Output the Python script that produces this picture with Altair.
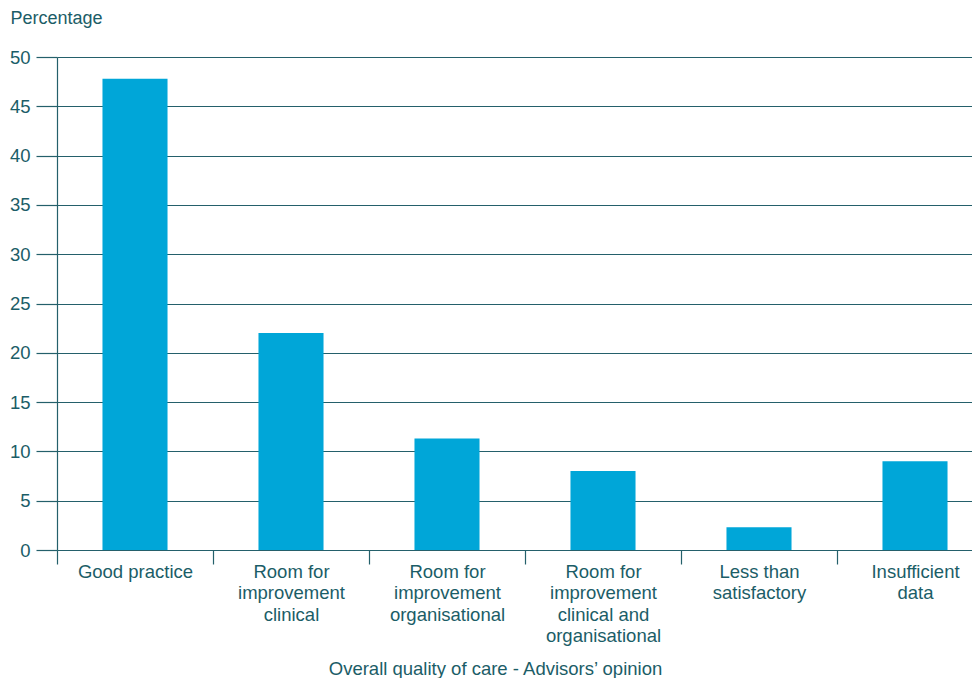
import altair as alt
import pandas as pd

categories = [
    "Good practice",
    "Room for|improvement|clinical",
    "Room for|improvement|organisational",
    "Room for|improvement|clinical and|organisational",
    "Less than|satisfactory",
    "Insufficient|data",
]
values = [47.8, 22.0, 11.3, 8.0, 2.3, 9.0]
y_ticks = [0, 5, 10, 15, 20, 25, 30, 35, 40, 45, 50]

df = pd.DataFrame({"category": categories, "value": values})

TEXT = "#1b5d67"
GRID = "#24606b"
BAR = "#00a6d8"
FONT = "Liberation Sans"

chart = alt.Chart(df).mark_bar(
    color=BAR, width=alt.RelativeBandSize(0.417)
).encode(
    x=alt.X(
        "category:N",
        sort=categories,
        scale=alt.Scale(paddingInner=0, paddingOuter=0),
        axis=alt.Axis(
            title="Overall quality of care - Advisors\u2019 opinion",
            titleX=438, titleY=124, titleAlign="center", titleBaseline="alphabetic",
            titleFont=FONT, titleFontSize=18.5, titleFontWeight="normal", titleColor=TEXT,
            labelExpr="split(datum.label, '|')",
            labelAngle=0, labelFont=FONT, labelFontSize=18.5, labelColor=TEXT,
            labelLineHeight=21.5, labelPadding=-2, labelBaseline="top",
            tickBand="extent", tickSize=14, tickColor=GRID, tickWidth=1.2,
            domain=False, grid=False,
        ),
    ),
    y=alt.Y(
        "value:Q",
        scale=alt.Scale(domain=[0, 50], nice=False),
        axis=alt.Axis(
            title="Percentage", titleAngle=0, titleX=-47, titleY=-34,
            titleAlign="left", titleBaseline="alphabetic",
            titleFont=FONT, titleFontSize=18, titleFontWeight="normal", titleColor=TEXT,
            values=y_ticks, labelFont=FONT, labelFontSize=18.5, labelColor=TEXT,
            labelPadding=6, tickSize=21, tickColor=GRID, tickWidth=1.2,
            grid=True, gridColor=GRID, gridWidth=1.2, gridOpacity=1,
            domain=True, domainColor=GRID, domainWidth=1.2,
        ),
    ),
).properties(
    width=936, height=493,
    autosize=alt.AutoSizeParams(type="none"),
    padding={"left": 49, "top": 49, "right": -21, "bottom": 128},
).configure_view(stroke=None)

chart.save("out.html", embed_options={"renderer": "svg", "actions": False})
